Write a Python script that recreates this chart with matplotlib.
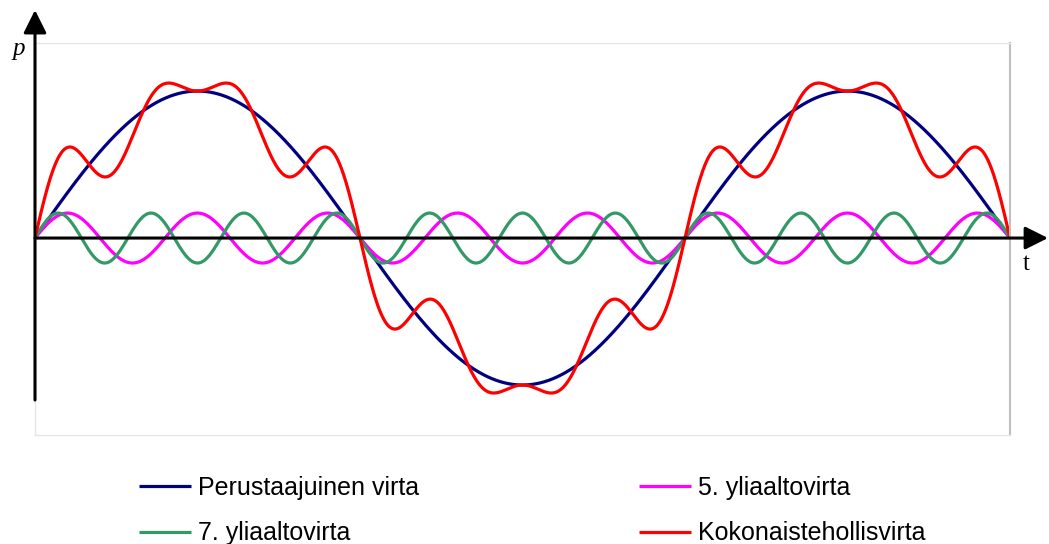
import numpy as np
import matplotlib
matplotlib.use('Agg')
import matplotlib.pyplot as plt

# Harmonic content of the current: order and relative amplitude
orders = [1, 5, 7]
amplitudes = [1.0, 0.17, 0.17]
labels = ['Perustaajuinen virta', '5. yliaaltovirta', '7. yliaaltovirta',
          'Kokonaistehollisvirta']
colors = ['#000080', '#ff00ff', '#339966', '#ff0000']

periods = 1.5
t = np.linspace(0, periods, 2001)
waves = [a * np.sin(2 * np.pi * n * t) for n, a in zip(orders, amplitudes)]
total = np.sum(waves, axis=0)

W, H = 1049, 544
fig = plt.figure(figsize=(W / 100, H / 100), dpi=100)
ax = fig.add_axes([35 / W, 1 - 435 / H, 975 / W, 392 / H])

lines = []
for y, lab, col in zip(waves + [total], labels, colors):
    ln, = ax.plot(t, y, color=col, lw=2.3, label=lab, solid_capstyle='butt')
    lines.append(ln)

ax.set_xlim(0, periods)
ax.set_ylim(-1.34, 1.327)
ax.set_xticks([])
ax.set_yticks([])
for side in ['top', 'left', 'bottom']:
    ax.spines[side].set_color('#e6e6e6')
    ax.spines[side].set_linewidth(1)
ax.spines['right'].set_color('#c0c0c0')
ax.spines['right'].set_linewidth(1.5)

# black axes with arrow heads
x_end = periods * (1048 - 35) / 975
arrow = dict(arrowstyle='-|>,head_length=14,head_width=7', mutation_scale=1,
             color='black', lw=2.2, shrinkA=0, shrinkB=0)
ax.annotate('', xy=(x_end, 0), xytext=(0, 0), arrowprops=arrow,
            annotation_clip=False)
ax.annotate('', xy=(0, 1.551), xytext=(0, -1.102), arrowprops=arrow,
            annotation_clip=False)

fig.text(19 / W, 1 - 55 / H, 'p', fontsize=18, family='Liberation Serif',
         style='italic', ha='center', va='baseline')
fig.text(1026 / W, 1 - 270 / H, 't', fontsize=18, family='Liberation Serif',
         ha='center', va='baseline')

order = [lines[0], lines[2], lines[1], lines[3]]
fig.legend(order, [l.get_label() for l in order], ncol=2, frameon=False,
           loc='upper left', bbox_to_anchor=(139 / W, 1 - 476 / H),
           borderaxespad=0, borderpad=0, handlelength=2.08, handletextpad=0.28,
           columnspacing=8.8, labelspacing=0.85,
           prop=dict(family='Liberation Sans', size=18))

fig.savefig('out.png', dpi=100, facecolor='white')
